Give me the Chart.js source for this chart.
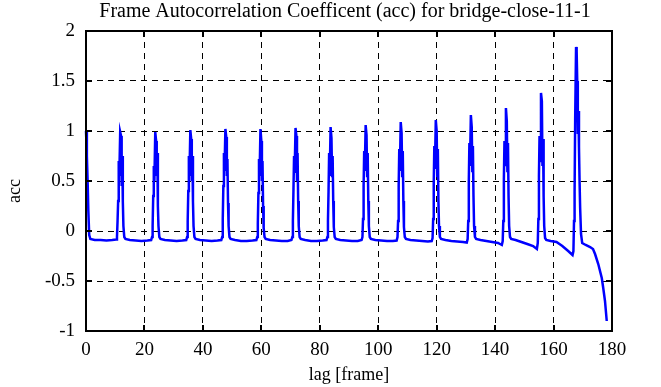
<!DOCTYPE html>
<html>
<head>
<meta charset="utf-8">
<script src="https://cdn.jsdelivr.net/npm/chart.js@4.4.1/dist/chart.umd.min.js"></script>
<style>
  html, body { margin: 0; padding: 0; background: #fff; }
  canvas { display: block; }
</style>
</head>
<body>
<canvas id="accChart" width="661" height="387"></canvas>
<script>
const chartTitle = 'Frame Autocorrelation Coefficent (acc) for bridge-close-11-1';
const xTicks = [0, 20, 40, 60, 80, 100, 120, 140, 160, 180];
const yTicks = [-1, -0.5, 0, 0.5, 1, 1.5, 2];

const lag = [
  0, 0.3, 0.6, 0.8, 1.1, 1.5, 3, 5, 7, 9, 10.3,
  10.6, 10.8, 11.0, 11.2, 11.4, 11.7, 12.0, 12.2, 12.4, 12.6, 12.8, 13.1, 13.5, 15, 17, 19, 21, 22.3,
  22.6, 22.8, 23.0, 23.2, 23.4, 23.7, 24.0, 24.2, 24.4, 24.6, 24.8, 25.1, 25.5, 27, 29, 31, 33, 34.3,
  34.6, 34.8, 35.0, 35.2, 35.4, 35.7, 36.0, 36.2, 36.4, 36.6, 36.8, 37.1, 37.5, 39, 41, 43, 45, 46.3,
  46.6, 46.8, 47.0, 47.2, 47.4, 47.7, 48.0, 48.2, 48.4, 48.6, 48.8, 49.1, 49.5, 51, 53, 55, 57, 58.3,
  58.6, 58.8, 59.0, 59.2, 59.4, 59.7, 60.0, 60.2, 60.4, 60.6, 60.8, 61.1, 61.5, 63, 65, 67, 69, 70.3,
  70.6, 70.8, 71.0, 71.2, 71.4, 71.7, 72.0, 72.2, 72.4, 72.6, 72.8, 73.1, 73.5, 75, 77, 79, 81, 82.3,
  82.6, 82.8, 83.0, 83.2, 83.4, 83.7, 84.0, 84.2, 84.4, 84.6, 84.8, 85.1, 85.5, 87, 89, 91, 93, 94.3,
  94.6, 94.8, 95.0, 95.2, 95.4, 95.7, 96.0, 96.2, 96.4, 96.6, 96.8, 97.1, 97.5, 99, 101, 103, 105, 106.3,
  106.6, 106.8, 107.0, 107.2, 107.4, 107.7, 108.0, 108.2, 108.4, 108.6, 108.8, 109.1, 109.5, 111, 113, 115, 117, 118.3,
  118.6, 118.8, 119.0, 119.2, 119.4, 119.7, 120.0, 120.2, 120.4, 120.6, 120.8, 121.1, 121.5, 123, 125, 127, 129, 130.3,
  130.6, 130.8, 131.0, 131.2, 131.4, 131.7, 132.0, 132.2, 132.4, 132.6, 132.8, 133.1, 133.5, 135, 137, 139, 141, 142.3,
  142.6, 142.8, 143.0, 143.2, 143.4, 143.7, 144.0, 144.2, 144.4, 144.6, 144.8, 145.1, 145.5, 147, 149, 151, 153, 154.3,
  154.6, 154.8, 155.0, 155.2, 155.4, 155.7, 156.0, 156.2, 156.4, 156.6, 156.8, 157.1, 157.5, 159, 161, 163, 165, 166.5,
  166.8, 167.0, 167.2, 167.4, 167.7, 167.9, 168.1, 168.3, 168.5, 168.7, 168.9, 169.1, 169.4, 169.8,
  171, 172.5, 173.5, 174.2, 175.3, 176.5, 177, 177.6, 178.2
];
const acc = [
  1.0, 0.75, 0.45, 0.2, -0.04, -0.08, -0.09, -0.09, -0.095, -0.09, -0.085,
  -0.06, 0.1, 0.3, 0.7, 0.55, 0.99, 0.95, 0.45, 0.75, 0.3, 0.05, -0.06, -0.08, -0.09, -0.095, -0.1, -0.095, -0.09,
  -0.06, 0.05, 0.35, 0.65, 0.5, 0.99, 0.9, 0.55, 0.78, 0.25, 0.05, -0.06, -0.08, -0.09, -0.095, -0.1, -0.095, -0.09,
  -0.06, 0.1, 0.4, 0.75, 0.55, 1.01, 0.92, 0.5, 0.75, 0.3, 0.05, -0.06, -0.08, -0.09, -0.095, -0.1, -0.095, -0.09,
  -0.06, 0.12, 0.45, 0.78, 0.6, 1.02, 0.94, 0.55, 0.72, 0.28, 0.05, -0.06, -0.08, -0.09, -0.1, -0.1, -0.095, -0.09,
  -0.06, 0.08, 0.38, 0.72, 0.55, 1.02, 0.9, 0.5, 0.7, 0.25, 0.03, -0.06, -0.08, -0.09, -0.095, -0.1, -0.1, -0.09,
  -0.06, 0.1, 0.42, 0.75, 0.58, 1.03, 0.95, 0.5, 0.78, 0.3, 0.05, -0.06, -0.08, -0.09, -0.1, -0.1, -0.095, -0.09,
  -0.06, 0.1, 0.4, 0.78, 0.55, 1.04, 0.93, 0.55, 0.75, 0.3, 0.04, -0.06, -0.08, -0.09, -0.095, -0.1, -0.1, -0.09,
  -0.06, 0.12, 0.45, 0.8, 0.6, 1.06, 0.96, 0.55, 0.78, 0.3, 0.05, -0.06, -0.08, -0.09, -0.095, -0.1, -0.1, -0.095,
  -0.06, 0.1, 0.45, 0.82, 0.6, 1.09, 0.98, 0.55, 0.8, 0.3, 0.04, -0.06, -0.08, -0.09, -0.095, -0.1, -0.105, -0.1,
  -0.07, 0.12, 0.48, 0.85, 0.62, 1.11, 1.0, 0.55, 0.82, 0.3, 0.05, -0.06, -0.08, -0.09, -0.1, -0.105, -0.11, -0.115,
  -0.08, 0.1, 0.5, 0.88, 0.65, 1.16, 1.04, 0.6, 0.85, 0.35, 0.05, -0.06, -0.08, -0.09, -0.1, -0.11, -0.12, -0.14,
  -0.1, 0.1, 0.52, 0.9, 0.66, 1.23, 1.1, 0.6, 0.88, 0.35, 0.05, -0.06, -0.08, -0.09, -0.11, -0.13, -0.15, -0.18,
  -0.12, 0.12, 0.55, 0.95, 0.7, 1.38, 1.3, 0.65, 0.92, 0.35, 0.05, -0.07, -0.09, -0.1, -0.11, -0.15, -0.2, -0.24,
  -0.2, 0.1, 0.39, 1.13, 1.84, 1.8, 1.5, 0.97, 1.2, 0.84, 0.5, 0.23, -0.03, -0.12,
  -0.14, -0.16, -0.18, -0.23, -0.33, -0.47, -0.57, -0.7, -0.9
];

const serif = '"Liberation Serif", "DejaVu Serif", serif';

// gnuplot style: inward tick marks on all four sides, title and y label
const framePlugin = {
  id: 'frame',
  afterDraw(chart) {
    const { ctx, chartArea: a, scales } = chart;
    ctx.save();
    ctx.strokeStyle = '#000';
    ctx.lineWidth = 2;
    ctx.beginPath();
    xTicks.forEach(v => {
      const px = Math.round(scales.x.getPixelForValue(v));
      ctx.moveTo(px, a.bottom); ctx.lineTo(px, a.bottom - 6);
      ctx.moveTo(px, a.top); ctx.lineTo(px, a.top + 6);
    });
    yTicks.forEach(v => {
      const py = Math.round(scales.y.getPixelForValue(v));
      ctx.moveTo(a.left, py); ctx.lineTo(a.left + 6, py);
      ctx.moveTo(a.right, py); ctx.lineTo(a.right - 6, py);
    });
    ctx.stroke();
    ctx.strokeRect(a.left, a.top, a.right - a.left, a.bottom - a.top);

    ctx.fillStyle = '#000';
    ctx.font = '20px ' + serif;
    ctx.textAlign = 'center';
    ctx.textBaseline = 'middle';
    ctx.fillText(chartTitle, (a.left + a.right) / 2 - 4, 12);

    ctx.font = '18px ' + serif;
    ctx.translate(15, (a.top + a.bottom) / 2 + 10);
    ctx.rotate(-Math.PI / 2);
    ctx.fillText('acc', 0, 0);
    ctx.restore();
  }
};

const ctx = document.getElementById('accChart').getContext('2d');
const accChart = new Chart(ctx, {
  type: 'scatter',
  data: {
    datasets: [{
      label: 'acc',
      data: lag.map((x, i) => ({ x: x, y: acc[i] })),
      showLine: true,
      borderColor: '#0000ff',
      borderWidth: 2.5,
      pointRadius: 0,
      tension: 0,
      clip: false
    }]
  },
  options: {
    responsive: false,
    animation: false,
    layout: { padding: { top: 31, right: 49, left: 0, bottom: 0 } },
    plugins: {
      legend: { display: false },
      tooltip: { enabled: false },
      title: { display: false }
    },
    scales: {
      x: {
        type: 'linear',
        min: 0,
        max: 180,
        afterBuildTicks: s => { s.ticks = xTicks.map(v => ({ value: v })); },
        afterFit: s => { s.height = 56; },
        ticks: { color: '#000', font: { family: serif, size: 19 }, padding: 2, maxRotation: 0 },
        grid: { color: '#000', lineWidth: 1, tickLength: 6, tickColor: 'rgba(0,0,0,0)' },
        border: { display: false, dash: [6, 5] },
        title: { display: true, text: 'lag [frame]', color: '#000', font: { family: serif, size: 18 }, padding: { top: 0, bottom: 1 } }
      },
      y: {
        min: -1,
        max: 2,
        afterBuildTicks: s => { s.ticks = yTicks.map(v => ({ value: v })); },
        afterFit: s => { s.width = 86; },
        ticks: { color: '#000', font: { family: serif, size: 19 }, padding: 3, callback: v => String(v) },
        grid: { color: '#000', lineWidth: 1, tickLength: 8, tickColor: 'rgba(0,0,0,0)' },
        border: { display: false, dash: [6, 5] }
      }
    }
  },
  plugins: [framePlugin]
});
</script>
</body>
</html>
